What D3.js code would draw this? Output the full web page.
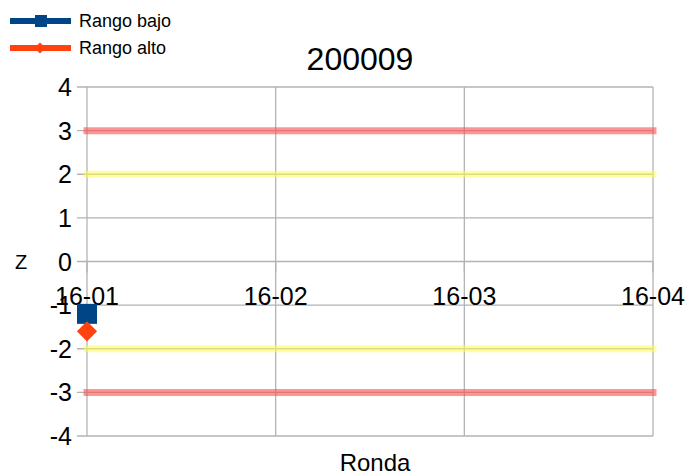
<!DOCTYPE html>
<html>
<head>
<meta charset="utf-8">
<script src="https://cdn.jsdelivr.net/npm/d3@7"></script>
<style>
  body { margin: 0; background: #fff; }
  svg { font-family: "Liberation Sans", Arial, sans-serif; }
</style>
</head>
<body>
<div id="chart"></div>
<script>
// Data
const rondas = ['16-01', '16-02', '16-03', '16-04'];
const rangoBajo = [-1.2];
const rangoAlto = [-1.6];
const limiteRojo = [3, -3];
const limiteAmarillo = [2, -2];
const yTicks = [-4, -3, -2, -1, 0, 1, 2, 3, 4];

// Dimensions
const width = 689;
const height = 476;
const marginLeft = 87, marginRight = 36, marginTop = 87, marginBottom = 40;

const x = d3.scalePoint()
    .domain(rondas)
    .range([marginLeft, width - marginRight]);

const y = d3.scaleLinear()
    .domain([-4, 4])
    .range([height - marginBottom, marginTop]);

const svg = d3.create("svg")
    .attr("width", width)
    .attr("height", height)
    .attr("viewBox", [0, 0, width, height]);

const grid = "#b3b3b3";

// Horizontal gridlines
svg.append("g")
    .selectAll("line")
    .data(yTicks)
    .join("line")
    .attr("x1", marginLeft - 10)
    .attr("x2", width - marginRight)
    .attr("y1", d => y(d))
    .attr("y2", d => y(d))
    .attr("stroke", grid)
    .attr("stroke-width", 1.3);

// Vertical gridlines
svg.append("g")
    .selectAll("line")
    .data(rondas)
    .join("line")
    .attr("x1", d => x(d))
    .attr("x2", d => x(d))
    .attr("y1", y(4))
    .attr("y2", y(-4))
    .attr("stroke", grid)
    .attr("stroke-width", 1.3);

// X axis at zero with ticks downward
svg.append("g")
    .selectAll("line")
    .data(rondas)
    .join("line")
    .attr("x1", d => x(d))
    .attr("x2", d => x(d))
    .attr("y1", y(0))
    .attr("y2", y(0) + 11)
    .attr("stroke", grid)
    .attr("stroke-width", 1.3);

// Limit bands
function band(values, color, opacity) {
    svg.append("g")
        .selectAll("line")
        .data(values)
        .join("line")
        .attr("x1", x(rondas[0]))
        .attr("x2", x(rondas[rondas.length - 1]))
        .attr("y1", d => y(d))
        .attr("y2", d => y(d))
        .attr("stroke", color)
        .attr("stroke-opacity", opacity)
        .attr("stroke-width", 7)
        .attr("stroke-linecap", "square");
}
band(limiteRojo, "#ff4d4d", 0.6);
band(limiteAmarillo, "#ffff55", 0.55);

// Y tick labels
svg.append("g")
    .selectAll("text")
    .data(yTicks)
    .join("text")
    .attr("x", marginLeft - 15)
    .attr("y", d => y(d))
    .attr("dy", "0.36em")
    .attr("text-anchor", "end")
    .attr("font-size", 25)
    .text(d => d);

// X tick labels
svg.append("g")
    .selectAll("text")
    .data(rondas)
    .join("text")
    .attr("x", d => x(d))
    .attr("y", y(0) + 43)
    .attr("text-anchor", "middle")
    .attr("font-size", 25)
    .text(d => d);

// Series
const bajo = rangoBajo.map((v, i) => [rondas[i], v]);
const alto = rangoAlto.map((v, i) => [rondas[i], v]);

svg.append("g")
    .selectAll("rect")
    .data(bajo)
    .join("rect")
    .attr("x", d => x(d[0]) - 10)
    .attr("y", d => y(d[1]) - 10)
    .attr("width", 20)
    .attr("height", 20)
    .attr("fill", "#004586");

const diamond = d3.symbol().type(d3.symbolDiamond2).size(260);
svg.append("g")
    .selectAll("path")
    .data(alto)
    .join("path")
    .attr("transform", d => `translate(${x(d[0])},${y(d[1])})`)
    .attr("d", diamond)
    .attr("fill", "#ff420e");

// Title and axis titles
svg.append("text")
    .attr("x", 360)
    .attr("y", 70)
    .attr("text-anchor", "middle")
    .attr("font-size", 32)
    .text("200009");

svg.append("text")
    .attr("x", 375)
    .attr("y", 471)
    .attr("text-anchor", "middle")
    .attr("font-size", 24)
    .text("Ronda");

svg.append("text")
    .attr("x", 21)
    .attr("y", y(0))
    .attr("dy", "0.36em")
    .attr("text-anchor", "middle")
    .attr("font-size", 20)
    .text("Z");

// Legend
const legend = svg.append("g");
const legendItems = [
    {name: "Rango bajo", color: "#004586", shape: "square"},
    {name: "Rango alto", color: "#ff420e", shape: "diamond"}
];
legendItems.forEach((item, idx) => {
    const g = legend.append("g")
        .attr("transform", `translate(0, ${21 + idx * 27})`);
    g.append("line")
        .attr("x1", 10)
        .attr("x2", 71)
        .attr("stroke", item.color)
        .attr("stroke-width", 6);
    if (item.shape === "square") {
        g.append("rect")
            .attr("x", 35)
            .attr("y", -6)
            .attr("width", 12)
            .attr("height", 12)
            .attr("fill", item.color);
    } else {
        g.append("path")
            .attr("transform", "translate(40,0)")
            .attr("d", d3.symbol().type(d3.symbolDiamond2).size(80))
            .attr("fill", item.color);
    }
    g.append("text")
        .attr("x", 79)
        .attr("dy", "0.36em")
        .attr("font-size", 18)
        .text(item.name);
});

document.querySelector('#chart').appendChild(svg.node());
</script>
</body>
</html>
